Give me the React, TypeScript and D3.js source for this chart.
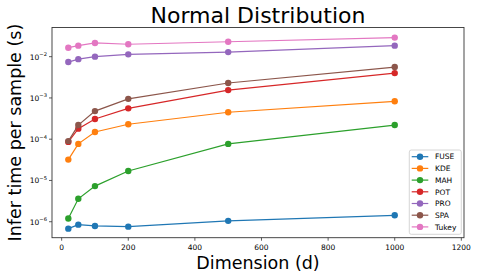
import React from 'react'
import * as d3 from 'd3'

const dims = [20, 50, 100, 200, 500, 1000]
const methods = ['FUSE', 'KDE', 'MAH', 'POT', 'PRO', 'SPA', 'Tukey']
const colors = ['#1f77b4', '#ff7f0e', '#2ca02c', '#d62728', '#9467bd', '#8c564b', '#e377c2']

const fuse = [6.8e-7, 8.5e-7, 7.9e-7, 7.6e-7, 1.05e-6, 1.43e-6]
const kde = [3.2e-5, 7.7e-5, 1.5e-4, 2.3e-4, 4.5e-4, 8.3e-4]
const mah = [1.2e-6, 3.6e-6, 7.3e-6, 1.7e-5, 7.7e-5, 2.2e-4]
const pot = [8.6e-5, 1.8e-4, 3.1e-4, 5.6e-4, 1.55e-3, 4.0e-3]
const pro = [7.4e-3, 8.7e-3, 1.0e-2, 1.14e-2, 1.29e-2, 1.85e-2]
const spa = [9.0e-5, 2.2e-4, 4.8e-4, 9.5e-4, 2.3e-3, 5.6e-3]
const tukey = [1.65e-2, 1.85e-2, 2.15e-2, 2.0e-2, 2.3e-2, 2.9e-2]

const series = [fuse, kde, mah, pot, pro, spa, tukey]

const xTicks = [0, 200, 400, 600, 800, 1000, 1200]
const yTicks = [1e-6, 1e-5, 1e-4, 1e-3, 1e-2]

const W = 478
const H = 279
const left = 52, right = 464, top = 27.5, bottom = 237.7

export default function App() {
  const x = d3.scaleLinear().domain([-29, 1208]).range([left, right])
  const y = d3.scaleLog().domain([10 ** -6.387, 10 ** -1.293]).range([bottom, top])
  const line = d3.line<number>().x((_, i) => x(dims[i])).y(d => y(d))
  const font = 'DejaVu Sans, sans-serif'

  return (
    <svg width={W} height={H} style={{ position: 'absolute', left: 0, top: 0 }} fontFamily={font}>
      <rect width={W} height={H} fill="white" />
      <text x={(left + right) / 2} y={23} textAnchor="middle" fontSize={22} fill="#000">Normal Distribution</text>

      {series.map((s, k) => (
        <g key={methods[k]}>
          <path d={line(s) || ''} fill="none" stroke={colors[k]} strokeWidth={1.2} />
          {s.map((v, i) => (
            <circle key={i} cx={x(dims[i])} cy={y(v)} r={3.2} fill={colors[k]} />
          ))}
        </g>
      ))}

      <rect x={left} y={top} width={right - left} height={bottom - top} fill="none" stroke="#333" strokeWidth={0.9} />

      {xTicks.map(t => (
        <g key={t}>
          <line x1={x(t)} x2={x(t)} y1={bottom} y2={bottom + 3} stroke="#333" strokeWidth={0.8} />
          <text x={x(t)} y={bottom + 12} textAnchor="middle" fontSize={7.5} fill="#000">{t}</text>
        </g>
      ))}
      {yTicks.map(t => (
        <g key={t}>
          <line x1={left - 3} x2={left} y1={y(t)} y2={y(t)} stroke="#333" strokeWidth={0.8} />
          <text x={left - 5} y={y(t) + 3} textAnchor="end" fontSize={7.5} fill="#000">
            10<tspan fontSize={5.2} dy={-3.5}>{'\u2212' + Math.round(-Math.log10(t))}</tspan>
          </text>
        </g>
      ))}

      <text x={(left + right) / 2} y={269} textAnchor="middle" fontSize={17.5} fill="#000">Dimension (d)</text>
      <text transform={`translate(21.3,${(top + bottom) / 2}) rotate(-90)`} textAnchor="middle" fontSize={17.5} fill="#000">Infer time per sample (s)</text>

      <g>
        <rect x={409.3} y={150} width={52} height={84.3} rx={2} fill="white" fillOpacity={0.8} stroke="#ccc" strokeWidth={0.8} />
        {methods.map((m, k) => (
          <g key={m} transform={`translate(0,${156.7 + k * 11.7})`}>
            <line x1={411.7} x2={428.3} y1={0} y2={0} stroke={colors[k]} strokeWidth={1.2} />
            <circle cx={420} cy={0} r={3.2} fill={colors[k]} />
            <text x={435} y={2.7} fontSize={7.5} fill="#000">{m}</text>
          </g>
        ))}
      </g>
    </svg>
  )
}
